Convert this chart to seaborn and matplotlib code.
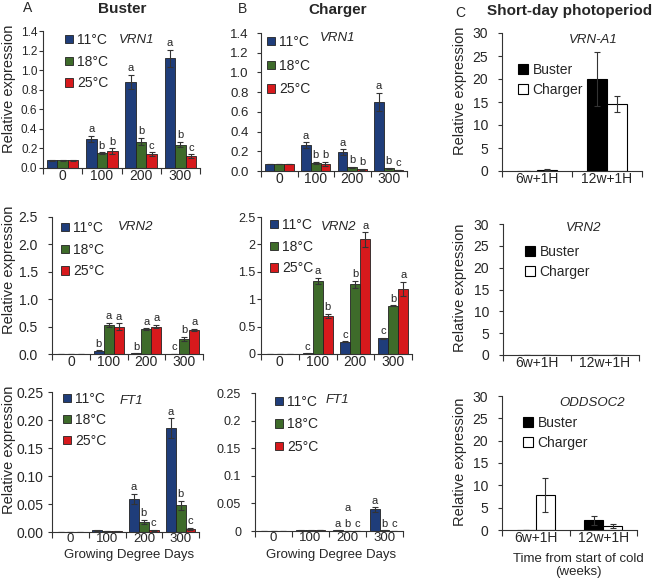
import matplotlib
matplotlib.use("Agg")
import matplotlib.pyplot as plt
from matplotlib.container import BarContainer
from matplotlib.patches import Patch
from matplotlib.ticker import FixedLocator
import numpy as np
import pandas as pd
import seaborn as sns

W, H = 656, 583

GDD = ["0", "100", "200", "300"]
TEMPS = ["11°C", "18°C", "25°C"]
TEMP_COLORS = ["#1F3D7A", "#3E6B2A", "#D7191C"]

# rows = temperature (11, 18, 25 °C), columns = growing degree days
buster_vrn1 = [[0.08, 0.30, 0.88, 1.12], [0.08, 0.15, 0.27, 0.24], [0.08, 0.17, 0.14, 0.12]]
buster_vrn1_se = [[0.004, 0.03, 0.07, 0.09], [0.004, 0.01, 0.04, 0.03], [0.004, 0.03, 0.02, 0.02]]
buster_vrn1_sig = [["", "a", "a", "a"], ["", "b", "b", "b"], ["", "b", "c", "c"]]

charger_vrn1 = [[0.07, 0.26, 0.19, 0.70], [0.07, 0.08, 0.04, 0.03], [0.07, 0.07, 0.02, 0.01]]
charger_vrn1_se = [[0.003, 0.03, 0.03, 0.09], [0.003, 0.01, 0.005, 0.005], [0.003, 0.02, 0.005, 0.003]]
charger_vrn1_sig = [["", "a", "a", "a"], ["", "b", "b", "b"], ["", "b", "b", "c"]]

buster_vrn2 = [[0.005, 0.06, 0.01, 0.005], [0.005, 0.53, 0.45, 0.27], [0.005, 0.50, 0.50, 0.44]]
buster_vrn2_se = [[0, 0.005, 0.003, 0.002], [0, 0.04, 0.02, 0.04], [0, 0.06, 0.03, 0.02]]
buster_vrn2_sig = [["", "b", "b", "c"], ["", "a", "a", "b"], ["", "a", "a", "a"]]

charger_vrn2 = [[0.005, 0.01, 0.22, 0.29], [0.005, 1.33, 1.27, 0.88], [0.005, 0.69, 2.09, 1.19]]
charger_vrn2_se = [[0, 0.003, 0.01, 0.01], [0, 0.06, 0.06, 0.01], [0, 0.04, 0.13, 0.13]]
charger_vrn2_sig = [["", "c", "c", "c"], ["", "a", "b", "b"], ["", "b", "a", "a"]]

buster_ft1 = [[0.0005, 0.003, 0.059, 0.185], [0.0005, 0.002, 0.018, 0.048], [0.0005, 0.001, 0.003, 0.006]]
buster_ft1_se = [[0, 0.0005, 0.009, 0.018], [0, 0.0005, 0.004, 0.008], [0, 0.0003, 0.001, 0.002]]
buster_ft1_sig = [["", "", "a", "a"], ["", "", "b", "b"], ["", "", "c", "c"]]

charger_ft1 = [[0.0003, 0.001, 0.001, 0.039], [0.0003, 0.001, 0.0005, 0.001], [0.0003, 0.0015, 0.0003, 0.0005]]
charger_ft1_se = [[0, 0.0002, 0.0002, 0.004], [0, 0.0002, 0.0001, 0.0002], [0, 0.0002, 0.0001, 0.0001]]
charger_ft1_sig = [["", "", "a", "a"], ["", "", "b", "b"], ["", "", "c", "c"]]

# short-day photoperiod, rows = cultivar (Buster, Charger)
WEEKS = ["6w+1H", "12w+1H"]
CULTIVARS = ["Buster", "Charger"]
vrna1 = [[0.05, 20.0], [0.3, 14.6]]
vrna1_se = [[0.02, 5.8], [0.1, 1.8]]
sd_vrn2 = [[0.0, 0.0], [0.0, 0.0]]
sd_vrn2_se = [[0.0, 0.0], [0.0, 0.0]]
oddsoc2 = [[0.05, 2.2], [7.9, 0.9]]
oddsoc2_se = [[0.02, 1.0], [3.8, 0.5]]

sns.set_style("ticks")
plt.rcParams["font.family"] = ["Liberation Sans", "DejaVu Sans"]


def fxy(x, y):
    return (x / W, 1 - y / H)


def px_axes(fig, x0, x1, ytop, ybot):
    return fig.add_axes([x0 / W, 1 - ybot / H, (x1 - x0) / W, (ybot - ytop) / H])


def long_table(values, errs, cats, groups):
    rows = []
    for g, vals, es in zip(groups, values, errs):
        for c, v, e in zip(cats, vals, es):
            rows.append({"cat": c, "group": g, "value": v, "se": e})
    return pd.DataFrame(rows)


def style_axes(ax, ncat, yticks, ylabels, ysize, ypad, xsize=10):
    ax.set_xlim(-0.5, ncat - 0.5)
    ax.set_ylim(0, yticks[-1])
    ax.set_yticks(yticks)
    ax.set_yticklabels(ylabels, fontsize=ysize)
    ax.tick_params(axis="x", which="major", length=0, labelsize=xsize, pad=1)
    ax.xaxis.set_minor_locator(FixedLocator(np.arange(-0.5, ncat, 1.0)))
    ax.tick_params(axis="x", which="minor", length=4, width=0.8, direction="out", color="#333333")
    ax.tick_params(axis="y", length=3, width=0.8, direction="out", pad=ypad, color="#333333")
    for s in ["top", "right"]:
        ax.spines[s].set_visible(False)
    for s in ["left", "bottom"]:
        ax.spines[s].set_linewidth(0.8)
        ax.spines[s].set_color("#333333")
    ax.set_xlabel("")
    ax.set_ylabel("")
    ax.set_facecolor("none")


def bars(ax, values, errs, cats, groups, colors, width, sig=None, edge="#222222", lw=0.6):
    df = long_table(values, errs, cats, groups)
    sns.barplot(data=df, x="cat", y="value", hue="group", order=cats, hue_order=groups,
                palette=colors, width=width, errorbar=None, saturation=1,
                edgecolor=edge, linewidth=lw, legend=False, ax=ax)
    conts = [c for c in ax.containers if isinstance(c, BarContainer)]
    for gi, cont in enumerate(conts):
        xs = [b.get_x() + b.get_width() / 2 for b in cont]
        hs = [b.get_height() for b in cont]
        ax.errorbar(xs, hs, yerr=errs[gi], fmt="none", ecolor="#333333",
                    elinewidth=0.8, capsize=2, capthick=0.8, zorder=3)
        if sig is not None:
            for x, h, e, s in zip(xs, hs, errs[gi], sig[gi]):
                if s:
                    ax.annotate(s, (x, h + e), xytext=(0, 1.2), textcoords="offset points",
                                ha="center", va="bottom", fontsize=8)


def legend(ax, fig, handles, labels, x, y, size, spacing):
    ax.legend(handles, labels, loc="upper left", bbox_to_anchor=fxy(x, y),
              bbox_transform=fig.transFigure, frameon=False, fontsize=10,
              handlelength=size, handleheight=size, handletextpad=0.3,
              labelspacing=spacing, borderpad=0, borderaxespad=0)


fig = plt.figure(figsize=(W / 100, H / 100), dpi=100)

temp_handles = [Patch(facecolor=c, edgecolor="#222222", linewidth=0.6) for c in TEMP_COLORS]
cult_handles = [Patch(facecolor="black", edgecolor="black", linewidth=0.8),
                Patch(facecolor="white", edgecolor="black", linewidth=0.8)]

panels = [
    # values, se, sig, axes px, yticks, yticklabels, tick size, tick pad, gene, gene pos, legend pos, spacing
    (buster_vrn1, buster_vrn1_se, buster_vrn1_sig, (43, 200, 31, 168),
     [0, 0.2, 0.4, 0.6, 0.8, 1.0, 1.2, 1.4], ["0.0", "0.2", "0.4", "0.6", "0.8", "1.0", "1.2", "1.4"],
     8.5, 1, "VRN1", (137, 40), (65, 33), 0.55),
    (charger_vrn1, charger_vrn1_se, charger_vrn1_sig, (261, 407, 33, 171),
     [0, 0.2, 0.4, 0.6, 0.8, 1.0, 1.2, 1.4], ["0.0", "0.2", "0.4", "0.6", "0.8", "1.0", "1.2", "1.4"],
     9.5, 6, "VRN1", (338, 38), (267, 35), 0.7),
    (buster_vrn2, buster_vrn2_se, buster_vrn2_sig, (52, 203, 217, 354),
     [0, 0.5, 1.0, 1.5, 2.0, 2.5], ["0.0", "0.5", "1.0", "1.5", "2.0", "2.5"],
     10, 7, "VRN2", (136, 227), (61, 221), 0.55),
    (charger_vrn2, charger_vrn2_se, charger_vrn2_sig, (261, 412, 217, 354),
     [0, 0.5, 1.0, 1.5, 2.0, 2.5], ["0", "0.5", "1", "1.5", "2", "2.5"],
     9, 1, "VRN2", (339, 227), (270, 218), 0.55),
    (buster_ft1, buster_ft1_se, buster_ft1_sig, (52, 199, 392, 532),
     [0, 0.05, 0.10, 0.15, 0.20, 0.25], ["0.00", "0.05", "0.10", "0.15", "0.20", "0.25"],
     10, 3, "FT1", (131, 401), (63, 392), 0.5),
    (charger_ft1, charger_ft1_se, charger_ft1_sig, (255, 403, 393, 531),
     [0, 0.05, 0.10, 0.15, 0.20, 0.25], ["0", "0.05", "0.1", "0.15", "0.2", "0.25"],
     9, 7, "FT1", (337, 400), (275, 395), 0.6),
]

temp_axes = []
for i, (vals, se, sig, box, yt, ytl, ysz, ypad, gene, gpos, lpos, lsp) in enumerate(panels):
    ax = px_axes(fig, *box)
    bars(ax, vals, se, GDD, TEMPS, TEMP_COLORS, 0.8, sig)
    style_axes(ax, len(GDD), yt, ytl, ysz, ypad, 9.5 if i >= 4 else 10)
    legend(ax, fig, temp_handles, TEMPS, lpos[0], lpos[1], 0.55, lsp)
    fig.text(*fxy(*gpos), gene, fontsize=9.5, style="italic", ha="center", va="center")
    temp_axes.append(ax)

# stray letter above the 200 GDD group in the Charger FT1 panel
temp_axes[5].text(2, 0.041, "a", fontsize=8, ha="center", va="center")

for ax in (temp_axes[4], temp_axes[5]):
    ax.set_xlabel("Growing Degree Days", fontsize=9.5)
temp_axes[4].xaxis.set_label_coords(129 / W, 1 - 549 / H, transform=fig.transFigure)
temp_axes[5].xaxis.set_label_coords(331 / W, 1 - 549 / H, transform=fig.transFigure)

for ax, yc in zip((temp_axes[0], temp_axes[2], temp_axes[4]), (89, 270, 450)):
    ax.set_ylabel("Relative expression", fontsize=10.5)
    ax.yaxis.set_label_coords(16 / W, 1 - yc / H, transform=fig.transFigure)

c_panels = [
    (vrna1, vrna1_se, (502, 642, 33, 171), "VRN-A1", (593, 40), (518, 63), 91),
    (sd_vrn2, sd_vrn2_se, (503, 639, 224, 355), "VRN2", (584, 228), (525, 245), 288),
    (oddsoc2, oddsoc2_se, (502, 637, 396, 530), "ODDSOC2", (592, 403), (523, 416), 462),
]
c_axes = []
for vals, se, box, gene, gpos, lpos, yc in c_panels:
    ax = px_axes(fig, *box)
    bars(ax, vals, se, WEEKS, CULTIVARS, ["black", "white"], 0.57, edge="black", lw=0.8)
    style_axes(ax, len(WEEKS), [0, 5, 10, 15, 20, 25, 30], ["0", "5", "10", "15", "20", "25", "30"], 10, 7)
    legend(ax, fig, cult_handles, CULTIVARS, lpos[0], lpos[1], 0.75, 0.45)
    fig.text(*fxy(*gpos), gene, fontsize=9.5, style="italic", ha="center", va="center")
    ax.set_ylabel("Relative expression", fontsize=10.5)
    ax.yaxis.set_label_coords(467 / W, 1 - yc / H, transform=fig.transFigure)
    c_axes.append(ax)

c_axes[2].set_xlabel("Time from start of cold\n(weeks)", fontsize=9.5, linespacing=1.15)
c_axes[2].xaxis.set_label_coords(578 / W, 1 - 553 / H, transform=fig.transFigure)

fig.text(*fxy(23, 8), "A", fontsize=10, ha="left", va="center")
fig.text(*fxy(122, 9), "Buster", fontsize=11, fontweight="bold", ha="center", va="center")
fig.text(*fxy(238, 9), "B", fontsize=10, ha="left", va="center")
fig.text(*fxy(338, 10), "Charger", fontsize=11, fontweight="bold", ha="center", va="center")
fig.text(*fxy(455, 13), "C", fontsize=10, ha="left", va="center")
fig.text(*fxy(570, 11), "Short-day photoperiod", fontsize=11, fontweight="bold", ha="center", va="center")

fig.savefig("out.png", dpi=100, facecolor="white")
